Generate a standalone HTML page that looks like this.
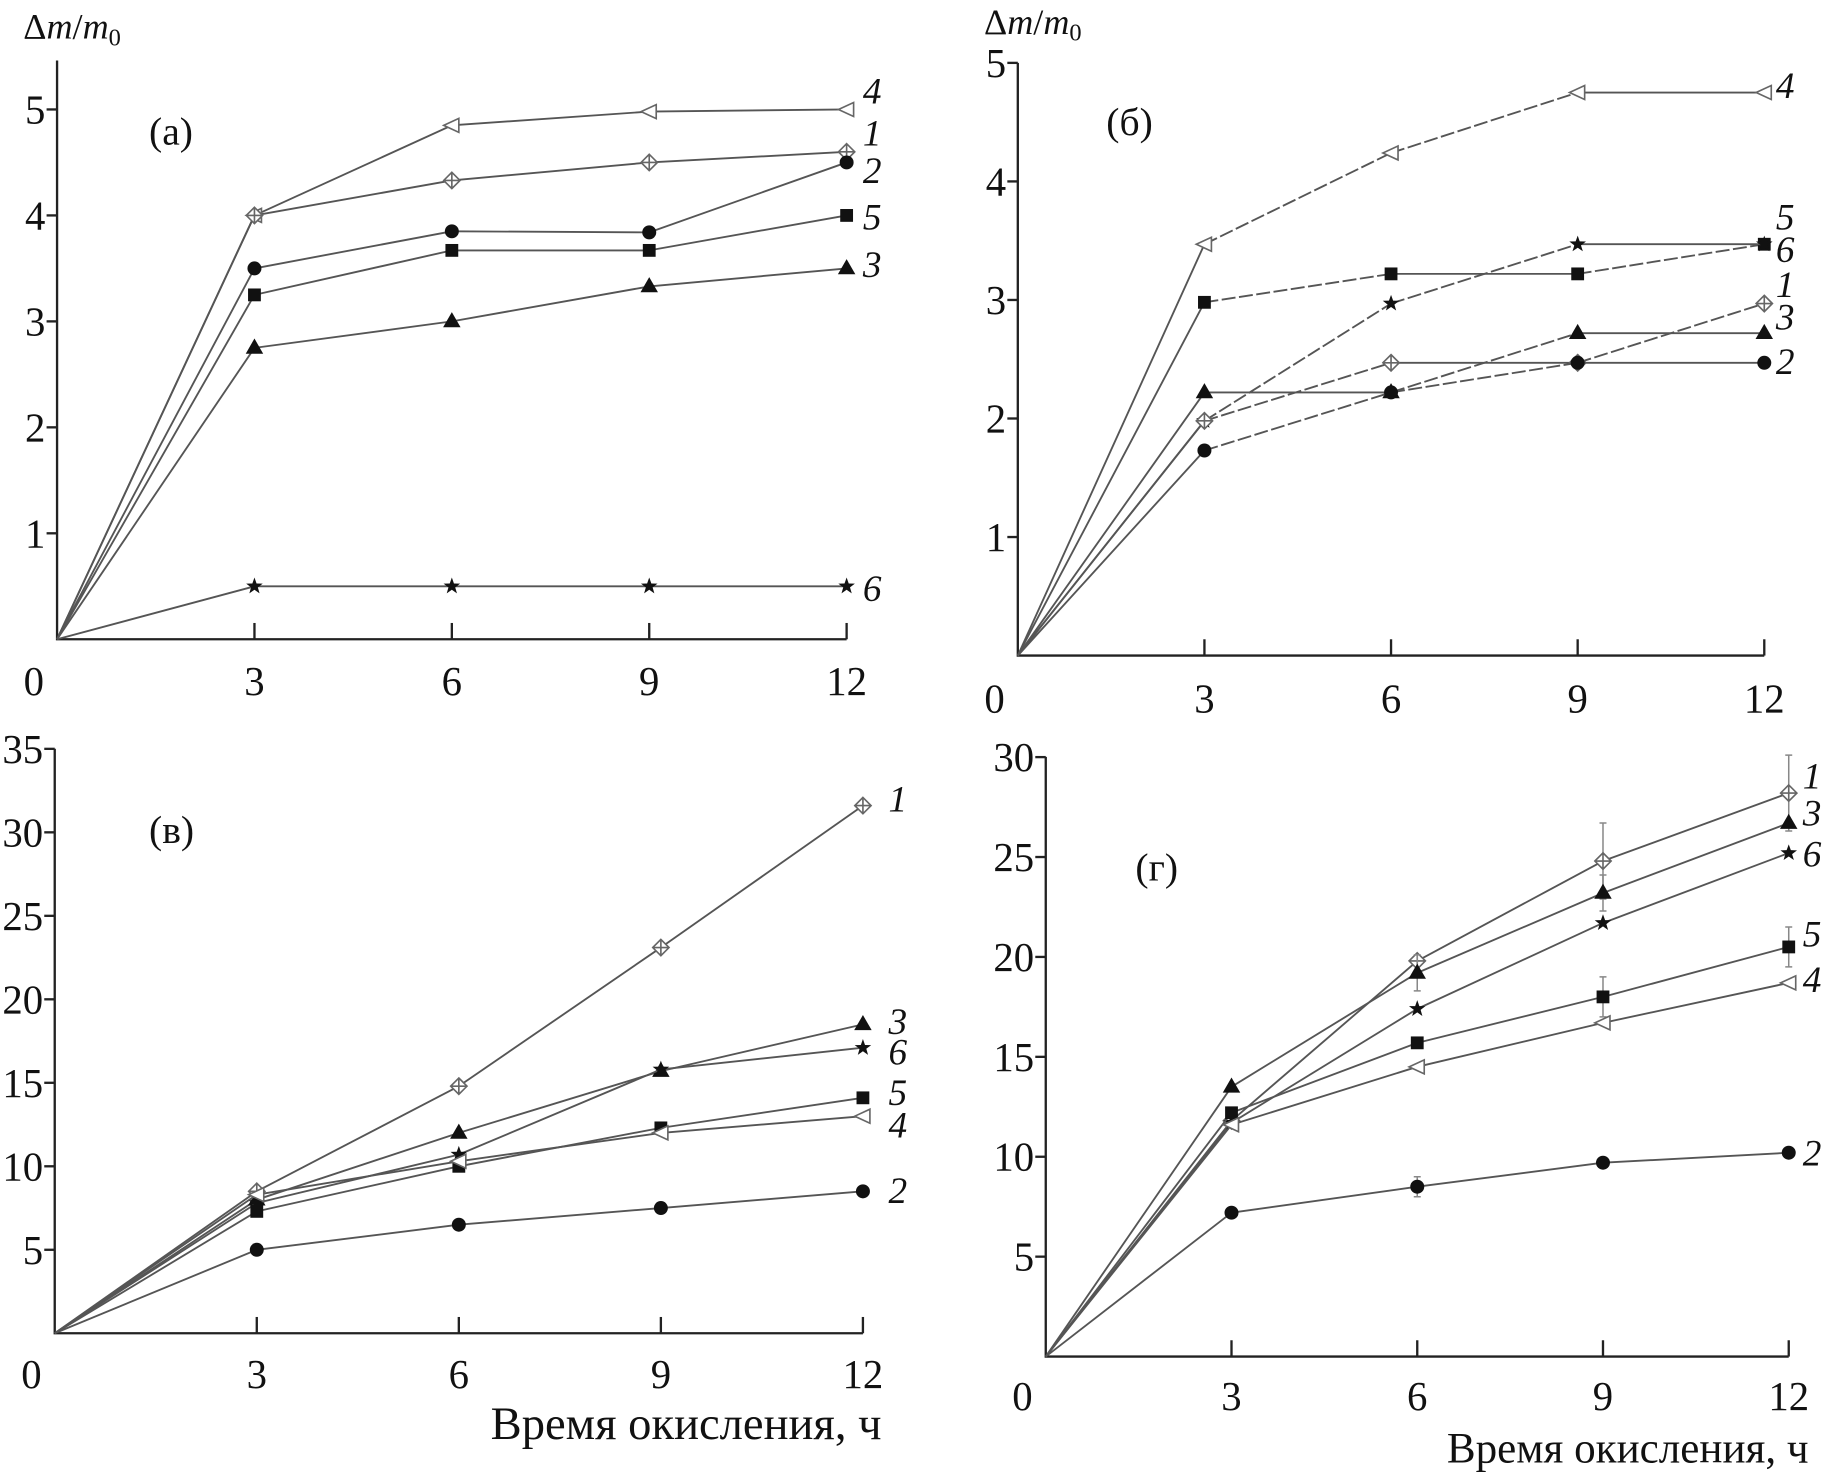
<!DOCTYPE html>
<html><head><meta charset="utf-8">
<style>
html,body{margin:0;padding:0;background:#fff;}
svg{display:block;}
text{font-family:"Liberation Serif",serif;fill:#111;}
</style></head>
<body>
<svg id="chart" width="1826" height="1473" viewBox="0 0 1568 1265" preserveAspectRatio="none" xmlns="http://www.w3.org/2000/svg"></svg>
<script>
// x categories (hours)
const hours = [0, 3, 6, 9, 12];
// panel (a)
const aS1 = [0, 4.0, 4.33, 4.5, 4.6];
const aS2 = [0, 3.5, 3.85, 3.84, 4.5];
const aS3 = [0, 2.75, 3.0, 3.33, 3.5];
const aS4 = [0, 4.0, 4.85, 4.98, 5.0];
const aS5 = [0, 3.25, 3.67, 3.67, 4.0];
const aS6 = [0, 0.5, 0.5, 0.5, 0.5];
// panel (b)
const bS1 = [0, 1.98, 2.47, 2.47, 2.97];
const bS2 = [0, 1.73, 2.22, 2.47, 2.47];
const bS3 = [0, 2.22, 2.22, 2.72, 2.72];
const bS4 = [0, 3.47, 4.24, 4.75, 4.75];
const bS5 = [0, 2.98, 3.22, 3.22, 3.47];
const bS6 = [0, 1.98, 2.97, 3.47, 3.47];
// panel (c)
const cS1 = [0, 8.5, 14.8, 23.1, 31.6];
const cS2 = [0, 5.0, 6.5, 7.5, 8.5];
const cS3 = [0, 8.0, 12.0, 15.7, 18.5];
const cS4 = [0, 8.3, 10.3, 12.0, 13.0];
const cS5 = [0, 7.3, 10.0, 12.3, 14.1];
const cS6 = [0, 7.8, 10.7, 15.8, 17.1];
// panel (d)
const dS1 = [0, 11.8, 19.8, 24.8, 28.2];
const dS2 = [0, 7.2, 8.5, 9.7, 10.2];
const dS3 = [0, 13.5, 19.2, 23.2, 26.7];
const dS4 = [0, 11.6, 14.5, 16.7, 18.7];
const dS5 = [0, 12.2, 15.7, 18.0, 20.5];
const dS6 = [0, 11.7, 17.4, 21.7, 25.2];
const dErr1 = [0, 0, 0, 1.9, 1.9];
const dErr5 = [0, 0, 0, 1.0, 1.0];
const dErr3 = [0, 0, 0.9, 0.9, 0];
const dErr2 = [0, 0, 0.5, 0, 0];
// tick labels
const xTicks = [3, 6, 9, 12];
const yTicksAB = [1, 2, 3, 4, 5];
const yTicksCD = [5, 10, 15, 20, 25, 30, 35];

const NS = "http://www.w3.org/2000/svg";
const svg = document.getElementById('chart');
function el(tag, attrs, parent) {
  const e = document.createElementNS(NS, tag);
  for (const k in attrs) e.setAttribute(k, attrs[k]);
  (parent || svg).appendChild(e);
  return e;
}
const LC = "#555";

function marker(g, type, x, y) {
  let m;
  if (type === 'diamond') {
    m = el('g', {}, g);
    el('path', {d:`M${x} ${y-7}L${x+7} ${y}L${x} ${y+7}L${x-7} ${y}Z M${x} ${y-7}V${y+7} M${x-7} ${y}H${x+7}`, fill:'#fff', stroke:'#666', 'stroke-width':1.4}, m);
  } else if (type === 'circle') {
    m = el('circle', {cx:x, cy:y, r:6, fill:'#111'}, g);
  } else if (type === 'tri') {
    m = el('path', {d:`M${x} ${y-8}L${x+7.5} ${y+5}L${x-7.5} ${y+5}Z`, fill:'#111'}, g);
  } else if (type === 'ltri') {
    m = el('path', {d:`M${x-7} ${y}L${x+6} ${y-6}L${x+6} ${y+6}Z`, fill:'#fff', stroke:'#666', 'stroke-width':1.4}, g);
  } else if (type === 'square') {
    m = el('rect', {x:x-5.5, y:y-5.5, width:11, height:11, fill:'#111'}, g);
  } else {
    let d = '';
    for (let i = 0; i < 10; i++) {
      const r = i % 2 ? 3 : 7.5, a = -Math.PI/2 + i*Math.PI/5;
      d += (i ? 'L' : 'M') + (x + r*Math.cos(a)).toFixed(1) + ' ' + (y + r*Math.sin(a)).toFixed(1);
    }
    m = el('path', {d:d+'Z', fill:'#111'}, g);
  }
  
  
}

function panel(cfg) {
  const g = el('g', {});
  
  
  const X = v => cfg.x0 + v * cfg.xpu;
  const Y = v => cfg.y0 - v * cfg.ypu;
  const ax = el('path', {d:`M${cfg.x0} ${cfg.top}V${cfg.y0}H${X(12)}`, fill:'none', stroke:'#222', 'stroke-width':2}, g);
  
  
  xTicks.forEach(t => {
    el('line', {x1:X(t), x2:X(t), y1:cfg.y0, y2:cfg.y0-14, stroke:'#222', 'stroke-width':2}, g);
    const tl = el('text', {x:X(t), y:cfg.xLabY, 'text-anchor':'middle', 'font-size':35}, g);
    tl.textContent = t;
    
    
  });
  const z = el('text', {x:cfg.x0-20, y:cfg.xLabY, 'text-anchor':'middle', 'font-size':35}, g);
  z.textContent = '0';
  
  
  cfg.yTicks.forEach(t => {
    el('line', {x1:cfg.x0-9, x2:cfg.x0, y1:Y(t), y2:Y(t), stroke:'#222', 'stroke-width':2}, g);
    const tl = el('text', {x:cfg.x0-10, y:Y(t)+12, 'text-anchor':'end', 'font-size':35}, g);
    tl.textContent = t;
    
    
  });
  const pl = el('text', {x:cfg.plx, y:cfg.ply, 'font-size':34}, g);
  pl.textContent = cfg.title;
  
  
  cfg.series.forEach(s => {
    const sg = el('g', {}, g);
    
    
    for (let i = 0; i < hours.length - 1; i++) {
      const dashed = cfg.dash && i >= 1 && s.v[i] !== s.v[i+1];
      const a = {x1:X(hours[i]), y1:Y(s.v[i]), x2:X(hours[i+1]), y2:Y(s.v[i+1]), stroke:LC, 'stroke-width':1.6};
      if (dashed) a['stroke-dasharray'] = '12 3';
      el('line', a, sg);
    }
    if (s.e) {
      hours.forEach((h, i) => {
        if (s.e[i] > 0) el('path', {d:`M${X(h)} ${Y(s.v[i]+s.e[i])}V${Y(s.v[i]-s.e[i])}M${X(h)-3} ${Y(s.v[i]+s.e[i])}h6M${X(h)-3} ${Y(s.v[i]-s.e[i])}h6`, stroke:'#888', 'stroke-width':1.3, fill:'none'}, sg);
      });
    }
    hours.forEach((h, i) => { if (i > 0) marker(sg, s.m, X(h), Y(s.v[i])); });
    const lb = el('text', {x:X(12)+cfg.lbdx, y:s.ly + 11, 'font-size':32, 'font-style':'italic'}, sg);
    lb.textContent = s.n;
    
    
  });
}

function ylab(x, y) {
  const t = el('text', {x:x, y:y, 'font-size':31});
  
  
  t.innerHTML = 'Δ<tspan font-style="italic">m</tspan>/<tspan font-style="italic">m</tspan><tspan font-size="21" dy="6">0</tspan>';
}
function xlab(x, y, fs) {
  const t = el('text', {x:x, y:y, 'font-size':fs, 'text-anchor':'end'});
  
  
  t.textContent = 'Время окисления, ч';
}

panel({id:'a', title:'(a)', x0:49, xpu:(727-49)/12, y0:549, ypu:91, top:52, xLabY:597, yTicks:yTicksAB, plx:128, ply:124, lbdx:14, dash:false,
  series:[
    {n:'4', v:aS4, m:'ltri', ly:78},
    {n:'1', v:aS1, m:'diamond', ly:114},
    {n:'2', v:aS2, m:'circle', ly:146},
    {n:'5', v:aS5, m:'square', ly:186},
    {n:'3', v:aS3, m:'tri', ly:227},
    {n:'6', v:aS6, m:'star', ly:505}
  ]});
panel({id:'b', title:'(б)', x0:874, xpu:(1515-874)/12, y0:563, ypu:101.8, top:54, xLabY:612, yTicks:yTicksAB, plx:950, ply:116, lbdx:10, dash:true,
  series:[
    {n:'4', v:bS4, m:'ltri', ly:73},
    {n:'5', v:bS5, m:'square', ly:186},
    {n:'6', v:bS6, m:'star', ly:214},
    {n:'1', v:bS1, m:'diamond', ly:244},
    {n:'3', v:bS3, m:'tri', ly:272},
    {n:'2', v:bS2, m:'circle', ly:310}
  ]});
panel({id:'v', title:'(в)', x0:47, xpu:(741-47)/12, y0:1145, ypu:14.34, top:643, xLabY:1192, yTicks:yTicksCD, plx:128, ply:724, lbdx:22, dash:false,
  series:[
    {n:'1', v:cS1, m:'diamond', ly:686},
    {n:'3', v:cS3, m:'tri', ly:877},
    {n:'6', v:cS6, m:'star', ly:903},
    {n:'5', v:cS5, m:'square', ly:938},
    {n:'4', v:cS4, m:'ltri', ly:966},
    {n:'2', v:cS2, m:'circle', ly:1022}
  ]});
panel({id:'g', title:'(г)', x0:898, xpu:(1536-898)/12, y0:1165, ypu:17.16, top:650, xLabY:1211, yTicks:yTicksCD.slice(0,6), plx:975, ply:756, lbdx:12, dash:false,
  series:[
    {n:'1', v:dS1, m:'diamond', ly:666, e:dErr1},
    {n:'3', v:dS3, m:'tri', ly:698, e:dErr3},
    {n:'6', v:dS6, m:'star', ly:733},
    {n:'5', v:dS5, m:'square', ly:802, e:dErr5},
    {n:'4', v:dS4, m:'ltri', ly:841},
    {n:'2', v:dS2, m:'circle', ly:990, e:dErr2}
  ]});

ylab(20, 33);
ylab(845, 29);
xlab(757, 1236, 40);
xlab(1553, 1256, 37);
</script>
</body></html>
